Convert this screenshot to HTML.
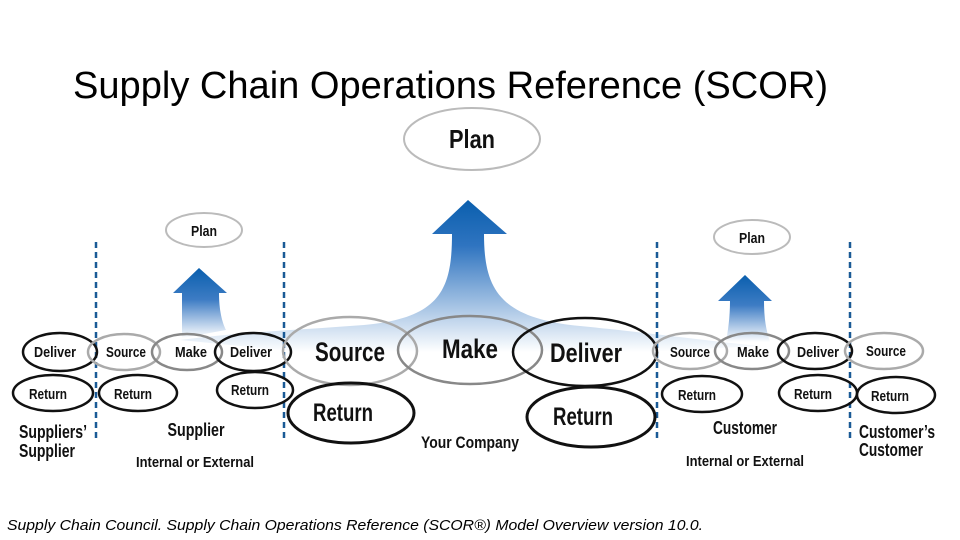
<!DOCTYPE html>
<html><head><meta charset="utf-8"><style>
html,body{margin:0;padding:0;background:#fff;}
svg{display:block;}
text{font-family:"Liberation Sans",sans-serif;font-weight:bold;fill:#111;}
</style></head><body>
<svg width="960" height="540" viewBox="0 0 960 540" xmlns="http://www.w3.org/2000/svg">
<defs>
<linearGradient id="g" x1="0" y1="0" x2="0" y2="1">
<stop offset="0" stop-color="#0a5fae"/>
<stop offset="0.45" stop-color="#3d7cc4"/>
<stop offset="1" stop-color="#ffffff"/>
</linearGradient>
<linearGradient id="g2" x1="0" y1="0" x2="0" y2="1">
<stop offset="0" stop-color="#0a5fae"/>
<stop offset="0.3" stop-color="#2f74c0"/>
<stop offset="1" stop-color="#ffffff"/>
</linearGradient>
</defs>
<text x="73" y="98" font-size="38" textLength="755" lengthAdjust="spacingAndGlyphs" style="font-weight:normal;fill:#000">Supply Chain Operations Reference (SCOR)</text>

<!-- big arrow -->
<path d="M468,200 L507,234 L484,234 C484,290 500,318 580,326 C660,334 700,340 760,346 L640,352 L300,352 L180,340 C240,332 300,330 364,325 C440,318 452,290 452,234 L432,234 Z" fill="url(#g2)"/>
<!-- small arrows -->
<path d="M199,268 L227,293 L219,293 C219,310 222,322 226,330 L182,338 C182,320 182,305 182,293 L173,293 Z" fill="url(#g)"/>
<path d="M745,275 L772,301 L764,301 C764,318 766,330 770,342 L726,342 C728,330 730,318 730,301 L718,301 Z" fill="url(#g)"/>

<g fill="none" stroke-width="2">
<ellipse cx="472" cy="139" rx="68" ry="31" stroke="#bbb" fill="#fff"/>
<ellipse cx="204" cy="230" rx="38" ry="17" stroke="#bbb" fill="#fff"/>
<ellipse cx="752" cy="237" rx="38" ry="17" stroke="#bbb" fill="#fff"/>
</g>
<g stroke="#1a5a96" stroke-width="2.5" stroke-dasharray="6,4">
<line x1="96" y1="242" x2="96" y2="440"/>
<line x1="284" y1="242" x2="284" y2="440"/>
<line x1="657" y1="242" x2="657" y2="440"/>
<line x1="850" y1="242" x2="850" y2="440"/>
</g>
<g fill="none" stroke-width="2.5">
<ellipse cx="60" cy="352" rx="37" ry="19" stroke="#111"/>
<ellipse cx="53" cy="393" rx="40" ry="18" stroke="#111"/>
<ellipse cx="124" cy="352" rx="36" ry="18" stroke="#aaa"/>
<ellipse cx="187" cy="352" rx="35" ry="18" stroke="#888"/>
<ellipse cx="253" cy="352" rx="38" ry="19" stroke="#111"/>
<ellipse cx="138" cy="393" rx="39" ry="18" stroke="#111"/>
<ellipse cx="255" cy="390" rx="38" ry="18" stroke="#111"/>
<ellipse cx="350" cy="351" rx="67" ry="34" stroke="#aaa"/>
<ellipse cx="470" cy="350" rx="72" ry="34" stroke="#888"/>
<ellipse cx="585" cy="352" rx="72" ry="34" stroke="#111"/>
<ellipse cx="351" cy="413" rx="63" ry="30" stroke="#111" stroke-width="3"/>
<ellipse cx="591" cy="417" rx="64" ry="30" stroke="#111" stroke-width="3"/>
<ellipse cx="690" cy="351" rx="37" ry="18" stroke="#aaa"/>
<ellipse cx="752" cy="351" rx="37" ry="18" stroke="#888"/>
<ellipse cx="815" cy="351" rx="37" ry="18" stroke="#111"/>
<ellipse cx="884" cy="351" rx="39" ry="18" stroke="#aaa"/>
<ellipse cx="702" cy="394" rx="40" ry="18" stroke="#111"/>
<ellipse cx="818" cy="393" rx="39" ry="18" stroke="#111"/>
<ellipse cx="896" cy="395" rx="39" ry="18" stroke="#111"/>
</g>
<g text-anchor="middle">
<text x="472" y="148" font-size="26" textLength="46" lengthAdjust="spacingAndGlyphs">Plan</text>
<text x="204" y="236" font-size="15" textLength="26" lengthAdjust="spacingAndGlyphs">Plan</text>
<text x="752" y="243" font-size="15" textLength="26" lengthAdjust="spacingAndGlyphs">Plan</text>
<text x="55" y="357" font-size="15" textLength="42" lengthAdjust="spacingAndGlyphs">Deliver</text>
<text x="48" y="399" font-size="15" textLength="38" lengthAdjust="spacingAndGlyphs">Return</text>
<text x="126" y="357" font-size="15" textLength="40" lengthAdjust="spacingAndGlyphs">Source</text>
<text x="191" y="357" font-size="15" textLength="32" lengthAdjust="spacingAndGlyphs">Make</text>
<text x="251" y="357" font-size="15" textLength="42" lengthAdjust="spacingAndGlyphs">Deliver</text>
<text x="133" y="399" font-size="15" textLength="38" lengthAdjust="spacingAndGlyphs">Return</text>
<text x="250" y="395" font-size="15" textLength="38" lengthAdjust="spacingAndGlyphs">Return</text>
<text x="350" y="361" font-size="27" textLength="70" lengthAdjust="spacingAndGlyphs">Source</text>
<text x="470" y="358" font-size="27" textLength="56" lengthAdjust="spacingAndGlyphs">Make</text>
<text x="586" y="362" font-size="27" textLength="72" lengthAdjust="spacingAndGlyphs">Deliver</text>
<text x="343" y="421" font-size="25" textLength="60" lengthAdjust="spacingAndGlyphs">Return</text>
<text x="583" y="425" font-size="25" textLength="60" lengthAdjust="spacingAndGlyphs">Return</text>
<text x="690" y="357" font-size="15" textLength="40" lengthAdjust="spacingAndGlyphs">Source</text>
<text x="753" y="357" font-size="15" textLength="32" lengthAdjust="spacingAndGlyphs">Make</text>
<text x="818" y="357" font-size="15" textLength="42" lengthAdjust="spacingAndGlyphs">Deliver</text>
<text x="886" y="356" font-size="15" textLength="40" lengthAdjust="spacingAndGlyphs">Source</text>
<text x="697" y="400" font-size="15" textLength="38" lengthAdjust="spacingAndGlyphs">Return</text>
<text x="813" y="399" font-size="15" textLength="38" lengthAdjust="spacingAndGlyphs">Return</text>
<text x="890" y="401" font-size="15" textLength="38" lengthAdjust="spacingAndGlyphs">Return</text>
<text x="196" y="436" font-size="18" textLength="57" lengthAdjust="spacingAndGlyphs">Supplier</text>
<text x="195" y="467" font-size="15" textLength="118" lengthAdjust="spacingAndGlyphs">Internal or External</text>
<text x="470" y="448" font-size="17" textLength="98" lengthAdjust="spacingAndGlyphs">Your Company</text>
<text x="745" y="434" font-size="18" textLength="64" lengthAdjust="spacingAndGlyphs">Customer</text>
<text x="745" y="466" font-size="15" textLength="118" lengthAdjust="spacingAndGlyphs">Internal or External</text>
</g>
<text x="19" y="438" font-size="18" textLength="68" lengthAdjust="spacingAndGlyphs">Suppliers’</text>
<text x="19" y="457" font-size="18" textLength="56" lengthAdjust="spacingAndGlyphs">Supplier</text>
<text x="859" y="438" font-size="18" textLength="76" lengthAdjust="spacingAndGlyphs">Customer’s</text>
<text x="859" y="456" font-size="18" textLength="64" lengthAdjust="spacingAndGlyphs">Customer</text>
<text x="7" y="530" font-size="15" textLength="696" lengthAdjust="spacingAndGlyphs" style="font-weight:normal;font-style:italic;fill:#000">Supply Chain Council. Supply Chain Operations Reference (SCOR®) Model Overview version 10.0.</text>
</svg>
</body></html>
